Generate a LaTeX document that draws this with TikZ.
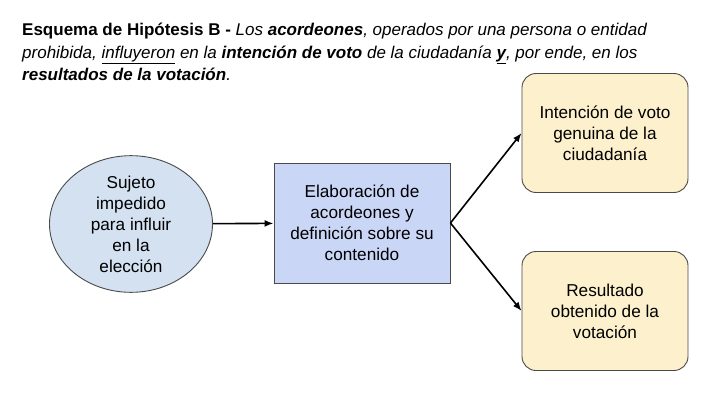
\documentclass[tikz,border=0pt]{standalone}
\usepackage{fontspec}
\setmainfont{Liberation Sans}
\usepackage{tikz}
\usetikzlibrary{positioning,calc,arrows.meta,shapes.geometric}
\definecolor{subjblue}{HTML}{D3E1F1}
\definecolor{procblue}{HTML}{C9D6F6}
\definecolor{outyellow}{HTML}{FDF0CC}
\definecolor{edgegray}{HTML}{4A4A4A}

\begin{document}
\begin{tikzpicture}[x=1pt,y=-1pt,edge/.style = {->,-{Latex[length=9pt,width=7pt]},line width=1.6pt,black},
    oval/.style={ellipse,draw=edgegray,line width=0.9pt,fill=subjblue,minimum width=163pt,minimum height=122pt,inner sep=0pt,align=center,font=\fontsize{17.2}{21}\selectfont},
    procbox/.style={rectangle,draw=edgegray,line width=0.9pt,fill=procblue,minimum width=176pt,minimum height=120pt,align=center,font=\fontsize{17.2}{21}\selectfont},
    outbox/.style={rectangle,rounded corners=14pt,draw=edgegray,line width=0.9pt,fill=outyellow,minimum width=166pt,minimum height=119pt,align=center,font=\fontsize{17.2}{21}\selectfont}]

    \useasboundingbox (0,0) rectangle (720,412);

    %--------------------------------------------
    % Title
    \node[anchor=north west,inner sep=0pt,align=left,font=\fontsize{17}{22.5}\selectfont](title) at (22,23)
        {\textbf{Esquema de Hipótesis B -} \textit{Los \textbf{acordeones}, operados por una persona o entidad}\\
        \textit{prohibida, \underline{influyeron} en la \textbf{intención de voto} de la ciudadanía \underline{\textbf{y}}, por ende, en los}\\
        \textit{\textbf{resultados de la votación}.}};

    %--------------------------------------------
    % Nodes
    \node[oval](subj) at (131,224) {Sujeto\\impedido\\para influir\\en la\\elección};

    \node[procbox](proc) at (362,223) {Elaboración de\\acordeones y\\definición sobre su\\contenido};

    \node[outbox](intent) at (605,133) {Intención de voto\\genuina de la\\ciudadanía};

    \node[outbox](result) at (605,311) {Resultado\\obtenido de la\\votación};

    %--------------------------------------------
    % Edges
    \draw[edge] (subj) -- (proc);
    \draw[edge] (proc.east) -- (intent.west);
    \draw[edge] (proc.east) -- (result.west);
\end{tikzpicture}
\end{document}
